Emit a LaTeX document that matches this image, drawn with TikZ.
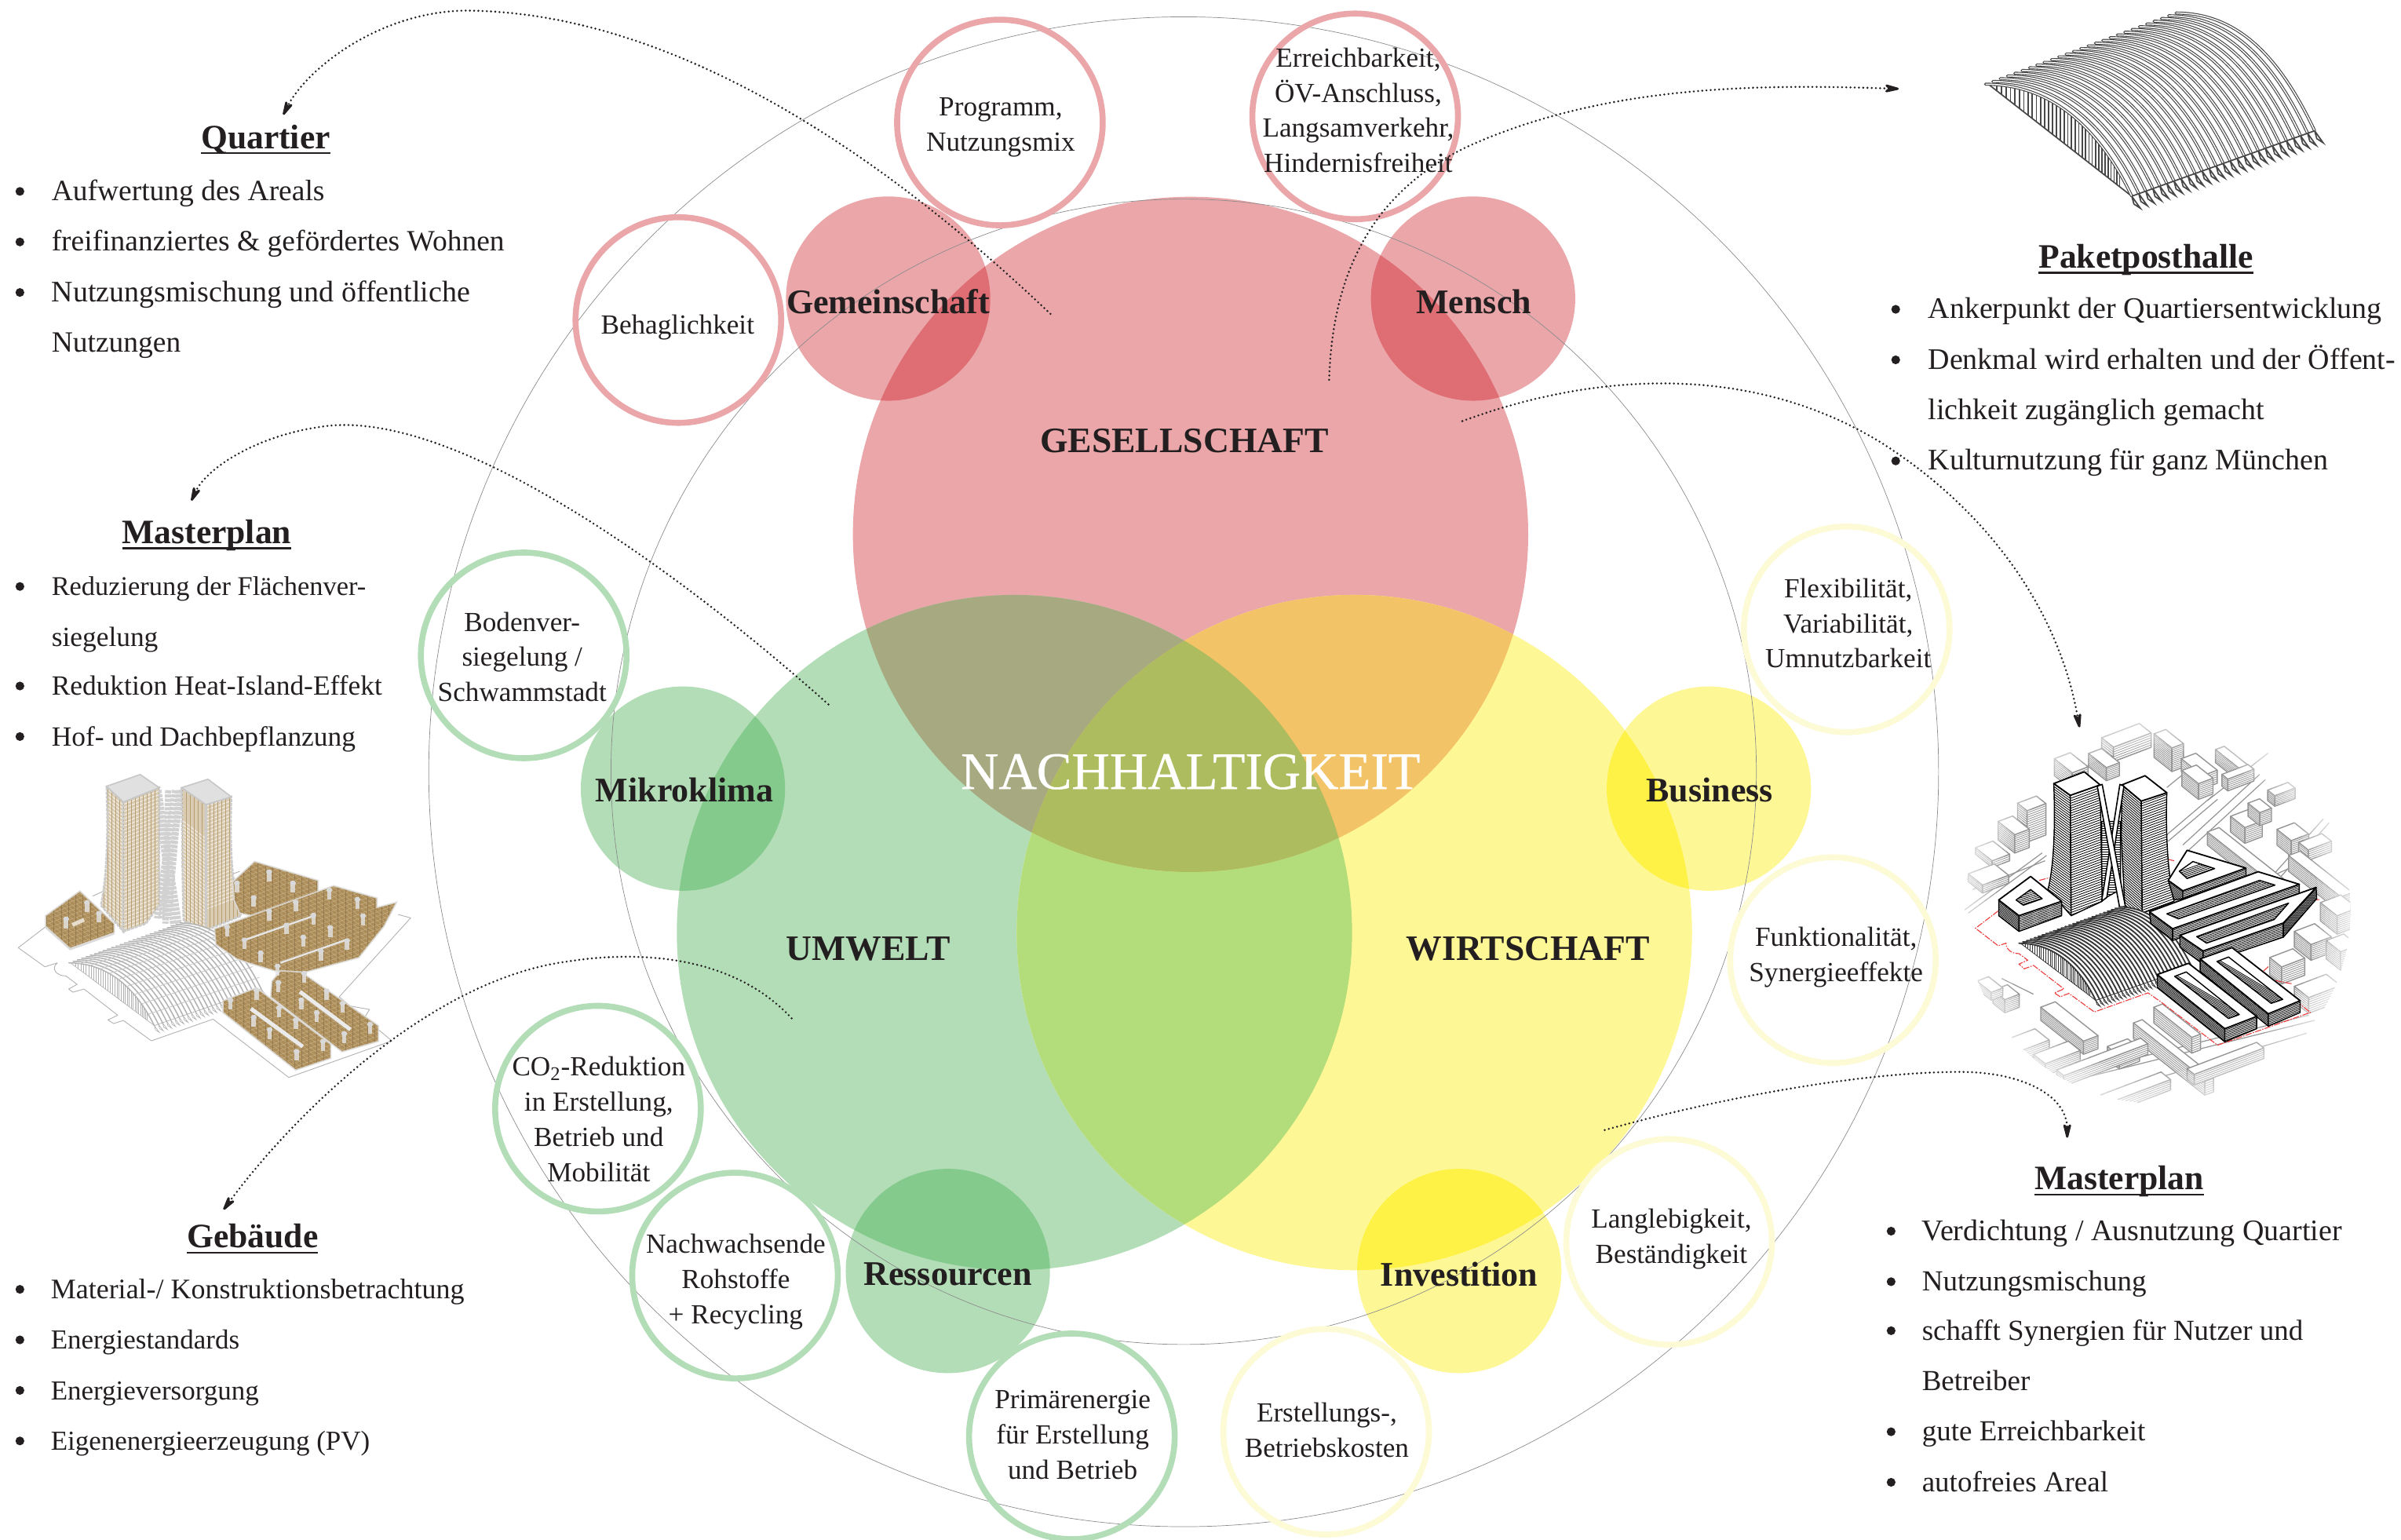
\documentclass[tikz,border=0pt]{standalone}
\usepackage{fontspec}
\setmainfont{Liberation Serif}
\usetikzlibrary{arrows.meta}
\definecolor{ink}{HTML}{231F20}
\definecolor{rd}{HTML}{EAA6A9}
\definecolor{rdd}{HTML}{DF6E74}
\definecolor{gn}{HTML}{B2DDB6}
\definecolor{gnd}{HTML}{84CA8D}
\definecolor{yl}{HTML}{FEF796}
\definecolor{yld}{HTML}{FFF247}
\definecolor{ylr}{HTML}{FDFAD6}
\definecolor{rg}{HTML}{A7A981}
\definecolor{ry}{HTML}{F3C367}
\definecolor{gy}{HTML}{B3DC7A}
\definecolor{rgy}{HTML}{ADBC5E}
\definecolor{brn}{HTML}{AC8D59}
\definecolor{brl}{HTML}{C6AE82}
\definecolor{twr}{HTML}{D9CCB3}
\definecolor{sitered}{HTML}{EE3B3B}
\newcommand\ulx[1]{\setbox0\hbox{#1}\rlap{\rule[-3.6pt]{\wd0}{1.15pt}}\box0}
\newcommand\szx[1]{\fontsize{#1}{22}\selectfont\ignorespaces}
\tikzset{
 x=0.9755pt,y=-0.9755pt,
 hoop/.style={circle,draw=#1,line width=3.8pt,minimum size=131pt,inner sep=0pt},
 hooptxt/.style={align=center,font=\fontsize{17.6}{22.4}\selectfont,text=ink,inner sep=0pt},
 smalltxt/.style={font=\fontsize{22}{24}\selectfont\bfseries,text=ink,inner sep=0pt},
 bigtxt/.style={font=\fontsize{22.8}{26}\selectfont\bfseries,text=ink,inner sep=0pt},
 headtxt/.style={font=\fontsize{21.8}{24}\selectfont\bfseries,text=ink,inner sep=0pt,anchor=base},
 btxt/.style={font=\fontsize{#1}{22}\selectfont,text=ink,inner sep=0pt,anchor=base west},
 bul/.style={circle,fill=ink,inner sep=0pt,minimum size=5.6pt},
 dotcon/.style={ink,line width=1.4pt,line cap=round,dash pattern=on 0pt off 2.7pt,-{Stealth[length=13pt,width=6.5pt,round]}},
 thinring/.style={draw=black!45,line width=0.35pt},
 iso/.style={shift={(1271.2,461.3)},xscale=0.18928,yscale=0.17086},
 axo/.style={shift={(0,487)},xscale=0.18307,yscale=0.17086},
}
% general hatched polygon
\newcommand\hpoly[9]{%
 \begin{scope}\clip #1;
  \fill[white] (-200,-200) rectangle (1800,1700);
  \foreach \k in {1,...,#6}{\draw[#8,line width=#9] (#2,{#3+\k*#7}) -- (#4,{#5+\k*#7});}
 \end{scope}
 \draw[#8,line width=#9*1.7,line join=round] #1;}
\newcommand\ib[7]{\hpoly{#1}{#2}{#3}{#4}{#5}{#6}{#7}{black}{0.42pt}}
% grey context box: x,y,a,b,h,n
\newcommand\gb[6]{%
 \pgfmathsetmacro\axx{#1+#3}\pgfmathsetmacro\ayy{#2-0.42*#3}%
 \pgfmathsetmacro\bxx{#1+0.82*#4}\pgfmathsetmacro\byy{#2+0.72*#4}%
 \pgfmathsetmacro\cxx{\axx+0.82*#4}\pgfmathsetmacro\cyy{\ayy+0.72*#4}%
 \pgfmathsetmacro\stp{#5/#6}%
 \hpoly{(#1,#2) -- (\bxx,\byy) -- (\bxx,\byy+#5) -- (#1,#2+#5) -- cycle}{#1}{#2}{\bxx}{\byy}{#6}{\stp}{black!42}{0.42pt}%
 \hpoly{(\bxx,\byy) -- (\cxx,\cyy) -- (\cxx,\cyy+#5) -- (\bxx,\byy+#5) -- cycle}{\bxx}{\byy}{\cxx}{\cyy}{#6}{\stp}{black!42}{0.42pt}%
 \draw[black!42,line width=0.7pt,fill=white,line join=round] (#1,#2) -- (\axx,\ayy) -- (\cxx,\cyy) -- (\bxx,\byy) -- cycle;}
% vault
\newcommand\vault[7]{% sx,sy,xscale,yscale,ribcolour,outer,inner
 \begin{scope}[shift={(#1,#2)},xscale=#3,yscale=#4]
  \fill[white] (0,0) .. controls (210,0) and (370,158) .. (480,428) -- (1080,178) .. controls (970,-92) and (835,-272) .. (625,-272) -- cycle;
  \draw[#5,line width=#6*0.45] (15,5) -- (480,428);
  \foreach \u in {0.06,0.085,...,0.9}{%
   \pgfmathsetmacro\px{3*(1-\u)*(1-\u)*\u*210+3*(1-\u)*\u*\u*370+\u*\u*\u*480}%
   \pgfmathsetmacro\py{3*(1-\u)*\u*\u*158+\u*\u*\u*428}%
   \pgfmathsetmacro\by{5+(\px-15)*0.9097}%
   \draw[#5,line width=#6*0.4] (\px,\py) -- (\px,\by);}
  \foreach \i in {0,...,26}{%
   \pgfmathsetmacro\sx{\i/26*625}\pgfmathsetmacro\sy{-\i/26*272}%
   \pgfmathsetmacro\ex{480+\i/26*600}\pgfmathsetmacro\ey{428-\i/26*250}%
   \draw[#5,line width=#6*0.45] (\ex,\ey) -- ({\ex+28},{\ey+46}) -- ({\ex+7},{\ey+30}) -- (\ex,\ey);
   \draw[#5,line width=#6,line cap=round] (\sx,\sy) .. controls ({\sx+210},\sy) and ({\ex-110},{\ey-270}) .. (\ex,\ey);
   \ifdim #7pt>0pt \draw[white,line width=#7] (\sx,\sy) .. controls ({\sx+210},\sy) and ({\ex-110},{\ey-270}) .. (\ex,\ey);\fi}
  \draw[#5,line width=#6*0.45] (480,428) -- (1080,178);
 \end{scope}}
% brown timber block
\newcommand\bb[1]{%
 \begin{scope}\clip #1;
  \fill[brn] (0,0) rectangle (1600,1400);
  \foreach \k in {0,17,...,2200}{\draw[brl,line width=0.3pt] (0,\k) -- (1600,\k-640);}
  \foreach \k in {-1200,-1183,...,1400}{\draw[brl,line width=0.25pt] (0,\k) -- (1600,\k+1312);}
  \foreach \k in {10,36,...,1600}{\draw[brn!70!black,line width=0.25pt,opacity=.5] (\k,0) -- (\k,1400);}
 \end{scope}
 \draw[black!12,line width=0.9pt,opacity=.8] #1;}
\newcommand\cube[2]{%
 \draw[black!10,line width=2.8pt,opacity=.8] (#1,#2) -- (#1,#2+36);
 \fill[black!15,rounded corners=1pt] (#1-11,#2-6) -- (#1,#2-11) -- (#1+11,#2-6) -- (#1+11,#2+6) -- (#1,#2+12) -- (#1-11,#2+6) -- cycle;}
\newcommand\tw[3]{% tower poly with grid; #2 slope end y, #3 steps
 \begin{scope}\clip #1;
  \fill[twr] (0,0) rectangle (1000,1000);
  \foreach \k in {0,14,...,800}{\draw[white!70!twr,line width=0.5pt] (300,\k) -- (900,\k+#2);}
  \foreach \k in {300,314,...,900}{\draw[brn!75!twr,line width=0.3pt] (\k,0) -- (\k,1000);}
 \end{scope}
 \draw[black!20,line width=1.3pt,dash pattern=on 2pt off .6pt] #1;}
\newcommand\smallc[5]{\fill[#4] (#1,#2) circle (\smr);\begin{scope}\clip (#1,#2) circle (\smr);\fill[#5] (#3) circle (\bigR);\end{scope}}
\begin{document}
\begin{tikzpicture}
\useasboundingbox[fill=white] (0,0) rectangle (1568,1005.2);
% --- big circles
\coordinate (cr) at (777.5,349);\coordinate (cg) at (662.5,609);\coordinate (cy) at (884.5,609);
\def\bigR{220.5}\def\smr{66.7}
\fill[rd] (cr) circle (\bigR);\fill[gn] (cg) circle (\bigR);\fill[yl] (cy) circle (\bigR);
\begin{scope}\clip (cr) circle (\bigR);
 \fill[rg] (cg) circle (\bigR);\fill[ry] (cy) circle (\bigR);
 \begin{scope}\clip (cg) circle (\bigR);\fill[rgy] (cy) circle (\bigR);\end{scope}
\end{scope}
\begin{scope}\clip (cg) circle (\bigR);
 \begin{scope}[even odd rule]\clip (cr) circle (\bigR) (-100,-100) rectangle (1700,1200);\fill[gy] (cy) circle (\bigR);\end{scope}
\end{scope}
% small filled circles
\smallc{580}{195}{cr}{rd}{rdd}
\smallc{962}{195}{cr}{rd}{rdd}
\smallc{446}{515}{cg}{gn}{gnd}
\smallc{1116}{515}{cy}{yl}{yld}
\smallc{619}{830}{cg}{gn}{gnd}
\smallc{953}{830}{cy}{yl}{yld}
% thin rings
\coordinate (cc) at (773,504);
\draw[thinring] (cc) circle (493);
\draw[thinring] (cc) circle (374);
% hoops
\node[hoop=rd] (h1) at (653,80) {};
\node[hoop=rd] (h2) at (885,76) {};
\node[hoop=rd] (h3) at (443,209) {};
\node[hoop=gn] (h4) at (342,428) {};
\node[hoop=ylr] (h5) at (1206,411) {};
\node[hoop=ylr] (h6) at (1197,627) {};
\node[hoop=gn] (h7) at (390.5,724) {};
\node[hoop=gn] (h8) at (480,833) {};
\node[hoop=gn] (h9) at (700,938) {};
\node[hoop=ylr] (h10) at (866,935) {};
\node[hoop=ylr] (h11) at (1090,811) {};
\node[hooptxt] (t1) at (653.5,83) {Programm,\\Nutzungsmix};
\node[hooptxt] (t2) at (887,72) {Erreichbarkeit,\\ÖV-Anschluss,\\Langsamverkehr,\\Hindernisfreiheit};
\node[hooptxt] (t3) at (442.5,214) {Behaglichkeit};
\node[hooptxt] (t4) at (341,429) {Bodenver-\\siegelung /\\Schwammstadt};
\node[hooptxt] (t5) at (1207,407) {Flexibilität,\\Variabilität,\\Umnutzbarkeit};
\node[hooptxt] (t6) at (1199,625) {Funktionalität,\\Synergieeffekte};
\node[hooptxt] (t7) at (391,731) {CO\textsubscript{2}-Reduktion\\in Erstellung,\\Betrieb und\\Mobilität};
\node[hooptxt] (t8) at (480.5,837) {Nachwachsende\\Rohstoffe\\+ Recycling};
\node[hooptxt] (t9) at (700.5,937) {Primärenergie\\für Erstellung\\und Betrieb};
\node[hooptxt] (t10) at (866.5,934) {Erstellungs-,\\Betriebskosten};
\node[hooptxt] (t11) at (1091.5,809) {Langlebigkeit,\\Beständigkeit};
% labels
\node[smalltxt] (s1) at (580,197) {Gemeinschaft};
\node[smalltxt] (s2) at (962.5,197) {Mensch};
\node[smalltxt] (s3) at (447,516) {Mikroklima};
\node[smalltxt] (s4) at (1116.5,516) {Business};
\node[smalltxt] (s5) at (619,832) {Ressourcen};
\node[smalltxt] (s6) at (953,832) {Investition};
\node[bigtxt] (b1) at (773.5,288) {GESELLSCHAFT};
\node[bigtxt] (b2) at (567,619.5) {UMWELT};
\node[bigtxt] (b3) at (998,619.5) {WIRTSCHAFT};
\node[font=\fontsize{33.5}{36}\selectfont\addfontfeature{FakeBold=0.6},text=white,inner sep=0pt] (b4) at (777.5,504) {NACHHALTIGKEIT};
% --- text lists
\node[headtxt] (q) at (173.5,97) {\ulx{Quartier}};
\foreach \n/\y/\tx in {q1/131/Aufwertung des Areals,q2/164/freifinanziertes \& gefördertes Wohnen,q3/197/{\szx{19}Nutzungsmischung und öffentliche},q4/230/Nutzungen}{\node[btxt=18.75] (\n) at (33.5,\y) {\tx};}
\foreach \n/\y in {qb1/130,qb2/163,qb3/196}{\node[bul] (\n) at (13,{\y-5}) {};}
\node[headtxt] (m) at (135,355) {\ulx{Masterplan}};
\foreach \n/\y/\tx in {m1/389/{\szx{17.2}Reduzierung der Flächenver-},m2/422/siegelung,m3/454/Reduktion Heat-Island-Effekt,m4/487/Hof- und Dachbepflanzung}{\node[btxt=17.7] (\n) at (33.5,\y) {\tx};}
\foreach \n/\y in {mb1/388,mb3/453,mb4/486}{\node[bul] (\n) at (13,{\y-5}) {};}
\node[headtxt] (g) at (165,815) {\ulx{Gebäude}};
\foreach \n/\y/\tx in {g1/848/{\szx{18}Material-/ Konstruktionsbetrachtung},g2/881/Energiestandards,g3/914/Energieversorgung,g4/947/Eigenenergieerzeugung (PV)}{\node[btxt=17.5] (\n) at (33,\y) {\tx};\node[bul] (b\n) at (13,{\y-6}) {};}
\node[headtxt] (p) at (1401.5,175) {\ulx{Paketposthalle}};
\foreach \n/\y/\tx in {p1/208/Ankerpunkt der Quartiersentwicklung,p2/241/Denkmal wird erhalten und der Öffent-,p3/274/lichkeit zugänglich gemacht,p4/307/Kulturnutzung für ganz München}{\node[btxt=19] (\n) at (1259,\y) {\tx};}
\foreach \n/\y in {pb1/207,pb2/240,pb4/306}{\node[bul] (\n) at (1238,{\y-5}) {};}
\node[headtxt] (r) at (1384,777) {\ulx{Masterplan}};
\foreach \n/\y/\tx in {r1/810/{\szx{19}Verdichtung / Ausnutzung Quartier},r2/843/Nutzungsmischung,r3/875/schafft Synergien für Nutzer und,r4/908/Betreiber,r5/941/gute Erreichbarkeit,r6/974/autofreies Areal}{\node[btxt=18.5] (\n) at (1255,\y) {\tx};}
\foreach \n/\y in {rb1/809,rb2/842,rb3/874,rb5/940,rb6/973}{\node[bul] (\n) at (1235,{\y-5}) {};}
% --- top-right vault
\vault{1296.6}{55}{0.19906}{0.17086}{black!72}{1.9pt}{0.75}
% --- isometric district, zoom coordinates
\begin{scope}[iso]
 \begin{scope}
  \clip (728,782) ellipse (665 and 735);
  \foreach \a/\b/\c/\d in {60/780/330/560,75/790/345/570,815/530/1080/260,835/550/1100/280,380/1420/1250/1180,400/1440/1270/1200,520/1490/1300/1230,900/360/1200/100,1130/640/1300/430,1150/655/1320/445,760/310/810/265,190/1040/300/1100,750/500/920/340,765/515/935/355,1120/650/1180/620,90/700/340/590}{\draw[black!42,line width=0.6pt] (\a,\b) -- (\c,\d);}
  \gb{535}{120}{130}{50}{55}{6}
  \gb{716}{105}{40}{75}{90}{12}
  \gb{810}{200}{50}{90}{50}{6}
  \gb{812}{245}{50}{70}{60}{8}
  \gb{928}{165}{30}{110}{50}{7}
  \gb{950}{260}{90}{25}{45}{6}
  \gb{372}{200}{55}{75}{65}{8}
  \gb{490}{180}{45}{75}{50}{7}
  \gb{245}{370}{65}{40}{120}{14}
  \gb{178}{440}{50}{70}{70}{9}
  \gb{1108}{320}{70}{30}{40}{6}
  \gb{900}{480}{40}{270}{50}{7}
  \gb{980}{420}{60}{60}{60}{8}
  \gb{1040}{370}{40}{50}{50}{7}
  \gb{1140}{470}{60}{60}{60}{8}
  \gb{1215}{520}{80}{40}{40}{5}
  \gb{1180}{570}{40}{220}{60}{8}
  \gb{1290}{750}{70}{70}{70}{9}
  \gb{1200}{860}{70}{70}{60}{8}
  \gb{1310}{895}{60}{60}{70}{9}
  \gb{1115}{960}{80}{50}{65}{8}
  \gb{1200}{1070}{110}{60}{60}{7}
  \gb{100}{540}{60}{70}{25}{3}
  \gb{75}{640}{90}{60}{30}{4}
  \gb{160}{1085}{50}{50}{50}{7}
  \gb{105}{1050}{40}{60}{30}{4}
  \gb{325}{1150}{50}{180}{50}{7}
  \gb{215}{1270}{90}{60}{40}{5}
  \gb{300}{1330}{120}{50}{45}{6}
  \gb{555}{1300}{70}{50}{50}{6}
  \gb{645}{1210}{30}{300}{60}{7}
  \gb{715}{1150}{30}{160}{60}{7}
  \gb{380}{1390}{290}{30}{40}{5}
  \gb{830}{1385}{240}{30}{40}{5}
  \gb{520}{1490}{220}{40}{40}{5}
  \foreach \rr in {620,640,...,735}{\fill[white,opacity=.16,even odd rule] (728,782) ellipse ({\rr*0.905} and \rr) (728,782) ellipse (700 and 760);}
 \end{scope}
 % red site line
 \begin{scope}[sitered,line width=0.55pt,dash pattern=on 4pt off .8pt on .8pt off .8pt]
  \draw (178,782) -- (100,848) -- (178,915) -- (205,905) .. controls (205,930) and (225,945) .. (250,945) -- (280,970) -- (250,985) -- (268,1003) -- (300,990) -- (405,1080) -- (372,1095) -- (392,1110) -- (422,1097) -- (510,1168) -- (695,1095) -- (740,1130) -- (935,1295) -- (1255,1170) -- (1190,1110);
  \draw (320,665) -- (355,655) (765,585) -- (785,590) (555,690) -- (585,700) (1265,740) -- (1290,738) (1110,995) -- (1090,1015) (1135,1048) -- (1190,1060);
 \end{scope}
 % towers
 \ib{(535,440) -- (600,440) -- (600,700) -- (535,740) -- cycle}{500}{430}{640}{430}{35}{9}
 \ib{(370,295) -- (427,340) -- (430,800) -- (350,700) .. controls (372,600) and (375,450) .. (370,295) -- cycle}{340}{225}{440}{305}{75}{9.5}
 \ib{(427,340) -- (530,300) -- (537,745) -- (430,800) -- cycle}{420}{345}{545}{295}{55}{9.5}
 \draw[black,line width=.9pt,fill=white,line join=round] (370,295) -- (475,250) -- (530,300) -- (427,340) -- cycle;
 \ib{(605,300) -- (672,362) -- (675,790) -- (615,765) -- (603,500) -- cycle}{590}{240}{680}{325}{65}{9.5}
 \ib{(672,362) -- (760,330) .. controls (755,500) and (765,650) .. (785,745) -- (675,790) -- cycle}{665}{365}{790}{315}{55}{9.5}
 \draw[black,line width=.9pt,fill=white,line join=round] (605,300) -- (685,265) -- (760,330) -- (672,362) -- cycle;
 % X braces
 \draw[black,line width=.8pt,fill=white,line join=round] (598,298) -- (612,305) -- (553,730) -- (535,745) -- cycle;
 \draw[black,line width=.8pt,fill=white,line join=round] (520,305) -- (537,298) -- (617,765) -- (597,768) -- cycle;
 % block A
 \ib{(180,740) -- (250,800) -- (250,860) -- (180,800) -- cycle}{180}{740}{250}{800}{9}{6.5}
 \ib{(250,800) -- (397,745) -- (397,800) -- (250,860) -- cycle}{250}{800}{397}{745}{9}{6.5}
 \draw[black,line width=.9pt,fill=white,line join=round] (180,740) -- (290,650) -- (397,745) -- (250,800) -- cycle;
 \ib{(240,740) -- (290,700) -- (330,735) -- (265,760) -- cycle}{230}{720}{340}{680}{14}{7}
\end{scope}
\vault{1318.5}{616}{0.1045}{0.0871}{black!78}{0.95pt}{0}
\begin{scope}[iso]
 % block B
 \ib{(765,665) -- (815,705) -- (815,735) -- (785,740) -- cycle}{765}{665}{815}{705}{10}{6.5}
 \ib{(815,705) -- (1033,618) -- (1033,650) -- (815,735) -- cycle}{815}{705}{1033}{618}{5}{6.5}
 \draw[black,line width=.9pt,fill=white,line join=round] (765,665) -- (830,550) -- (1033,618) -- (815,705) -- cycle;
 \ib{(803,630) -- (850,593) -- (925,620) -- (830,658) -- cycle}{790}{630}{940}{570}{14}{7}
 % block C
 \ib{(700,785) -- (780,850) -- (780,895) -- (705,830) -- cycle}{700}{785}{780}{850}{7}{6.5}
 \ib{(780,850) -- (1217,680) -- (1217,715) -- (780,895) -- cycle}{780}{850}{1217}{680}{6}{6.5}
 \draw[black,line width=.9pt,fill=white,line join=round] (700,785) -- (1075,632) -- (1217,680) -- (780,850) -- cycle;
 \ib{(760,793) -- (1080,665) -- (1133,683) -- (800,812) -- cycle}{750}{778}{1140}{628}{10}{6.5}
 % block D
 \ib{(805,875) -- (885,935) -- (885,985) -- (805,920) -- cycle}{805}{875}{885}{935}{8}{6.5}
 \ib{(885,935) -- (1162,828) -- (1162,882) -- (885,985) -- cycle}{885}{935}{1162}{828}{8}{6.5}
 \ib{(1162,828) -- (1275,692) -- (1277,735) -- (1162,882) -- cycle}{1162}{828}{1275}{692}{8}{6.5}
 \draw[black,line width=.9pt,fill=white,line join=round] (805,875) -- (1275,692) -- (1162,828) -- (885,935) -- cycle;
 \ib{(863,880) -- (1180,752) -- (1130,815) -- (897,905) -- cycle}{850}{870}{1190}{735}{11}{6.5}
 % block E
 \ib{(875,965) -- (1110,1175) -- (1110,1222) -- (875,1012) -- cycle}{875}{965}{1110}{1175}{8}{6.5}
 \ib{(1110,1175) -- (1220,1125) -- (1220,1170) -- (1110,1222) -- cycle}{1110}{1175}{1220}{1125}{7}{6.5}
 \draw[black,line width=.9pt,fill=white,line join=round] (875,965) -- (985,922) -- (1220,1125) -- (1110,1175) -- cycle;
 \ib{(933,975) -- (973,958) -- (1160,1120) -- (1120,1135) -- cycle}{920}{950}{1170}{1115}{10}{6.5}
 % block F
 \ib{(727,1025) -- (960,1232) -- (960,1282) -- (727,1075) -- cycle}{727}{1025}{960}{1232}{8}{6.5}
 \ib{(960,1232) -- (1070,1185) -- (1070,1232) -- (960,1282) -- cycle}{960}{1232}{1070}{1185}{7}{6.5}
 \draw[black,line width=.9pt,fill=white,line join=round] (727,1025) -- (835,982) -- (1070,1185) -- (960,1232) -- cycle;
 \ib{(787,1032) -- (827,1015) -- (1010,1178) -- (973,1193) -- cycle}{775}{1010}{1020}{1170}{9}{6.5}
\end{scope}
% --- left timber axonometric
\begin{scope}[axo]
 \draw[black!30,line width=0.45pt,line join=round] (165,690) -- (65,772) -- (160,845) -- (205,830) (205,830) .. controls (180,850) and (200,880) .. (235,880) -- (275,912) -- (245,930) -- (260,942) -- (300,930) -- (420,1030) -- (385,1048) -- (405,1062) -- (440,1050) -- (540,1128) -- (760,1045) -- (1030,1268) -- (1398,1128) -- (1210,960) -- (1465,658) -- (1420,645) (330,575) -- (365,558) (590,590) -- (625,610) (830,490) -- (855,480) (1250,995) -- (1318,1008) -- (1300,1040);
 \bb{(162,650) -- (285,555) -- (408,680) -- (408,715) -- (250,775) -- (162,690) -- cycle}
 \fill[black!14] (162,690) -- (250,775) -- (408,715) -- (408,722) -- (250,782) -- (162,698) -- cycle;
 \draw[white!70!brn,line width=2.5pt] (258,685) -- (300,665);
 \cube{310}{600}\cube{236}{662}\cube{353}{640}
 % towers
 \foreach \a/\b/\c in {600/590/680,560/620/700,625/560/660}{\draw[black!18,line width=4pt,dash pattern=on 2pt off .7pt] (\a,170) -- (\b,\c);}
 \foreach \a/\b/\c in {565/640/700,650/575/660,640/600/660}{\draw[black!18,line width=4pt,dash pattern=on 2pt off .7pt] (\a,170) -- (\b,\c);}
 \tw{(380,155) -- (440,215) -- (440,710) -- (360,610) .. controls (385,480) and (385,300) .. (380,155) -- cycle}{490}{}
 \tw{(440,215) -- (568,160) -- (568,610) -- (520,680) -- (440,710) -- cycle}{-240}{}
 \fill[black!12,draw=black!22,line width=.8pt] (380,155) -- (500,110) -- (568,160) -- (440,215) -- cycle;
 \tw{(648,160) -- (735,225) -- (735,705) -- (655,670) .. controls (650,500) and (650,300) .. (648,160) -- cycle}{490}{}
 \tw{(735,225) -- (825,195) .. controls (820,400) and (825,520) .. (860,650) -- (735,705) -- cycle}{-240}{}
 \fill[black!12,draw=black!22,line width=.8pt] (648,160) -- (742,128) -- (825,195) -- (735,225) -- cycle;
\end{scope}
\vault{44.9}{628.8}{0.1164}{0.0957}{black!30}{0.75pt}{0}
\begin{scope}[shift={(44.9,628.8)},xscale=0.1164,yscale=0.0957,black!22]
 \foreach \v in {0.1,0.2,...,0.95}{%
  \pgfmathsetmacro\ax{3*(1-\v)*(1-\v)*\v*210+3*(1-\v)*\v*\v*370+\v*\v*\v*480}%
  \pgfmathsetmacro\ay{3*(1-\v)*\v*\v*158+\v*\v*\v*428}%
  \draw[line width=.4pt] (\ax,\ay) -- ({\ax+625},{\ay-272+\v*22});}
\end{scope}
\begin{scope}[axo]
 \bb{(830,520) -- (908,442) -- (1135,515) -- (1135,570) -- (900,650) -- (855,640) -- (835,590) -- cycle}
 \bb{(765,700) -- (1190,535) -- (1345,582) -- (1345,618) -- (1415,598) -- (1370,690) -- (1280,810) -- (1040,880) -- (885,830) -- (845,815) -- (770,760) -- cycle}
 \bb{(1000,860) -- (1075,865) -- (1350,1070) -- (1350,1130) -- (1220,1170) -- (965,960) -- (970,900) -- cycle}
 \bb{(795,975) -- (915,925) -- (1180,1140) -- (1180,1195) -- (1055,1240) -- (795,1020) -- cycle}
 \draw[black!10,line width=1.2pt] (1000,830) -- (1240,740);
 \draw[black!10,line width=1.2pt] (880,740) -- (1120,650);
 \draw[black!8,line width=2.5pt] (895,1005) -- (1080,1150);
 \draw[black!8,line width=2.5pt] (1070,940) -- (1250,1085);
 \foreach \x/\y in {960/482,845/525,1045/525,905/580,960/632,1175/552,1275/588,1295/650,1055/598,1118/648,1022/685,810/692,872/742,1178/695,1082/732,930/792,1145/785,1238/745,990/842,993/905,1085/870,1165/937,1222/985,915/935,822/972,995/1002,1055/1048,1075/972,1130/1020,905/1038,962/1085,1320/1065,1228/1100,1152/1130,1058/1168}{\cube{\x}{\y}}
\end{scope}
% --- connectors
\coordinate (a1) at (686,205);\coordinate (e1) at (185,75);
\coordinate (a2) at (868,248);\coordinate (e2) at (1240,58);
\coordinate (a3) at (955,275);\coordinate (e3) at (1358,475);
\coordinate (a4) at (541,460);\coordinate (e4) at (125,327);
\coordinate (a5) at (517,665);\coordinate (e5) at (146,790);
\coordinate (a6) at (1048,738);\coordinate (e6) at (1350,743);
\draw[dotcon] (a1) .. controls (560,85) and (430,10) .. (310,7) .. controls (250,5) and (200,45) .. (e1);
\draw[dotcon] (a2) .. controls (870,180) and (895,125) .. (960,95) .. controls (1050,55) and (1150,55) .. (e2);
\draw[dotcon] (a3) .. controls (1050,240) and (1150,240) .. (1230,290) .. controls (1300,335) and (1345,400) .. (e3);
\draw[dotcon] (a4) .. controls (440,370) and (300,270) .. (215,278) .. controls (170,283) and (135,305) .. (e4);
\draw[dotcon] (a5) .. controls (480,625) and (420,620) .. (370,628) .. controls (280,640) and (190,730) .. (e5);
\draw[dotcon] (a6) .. controls (1130,715) and (1220,700) .. (1280,700) .. controls (1320,700) and (1350,715) .. (e6);
\end{tikzpicture}
\end{document}
